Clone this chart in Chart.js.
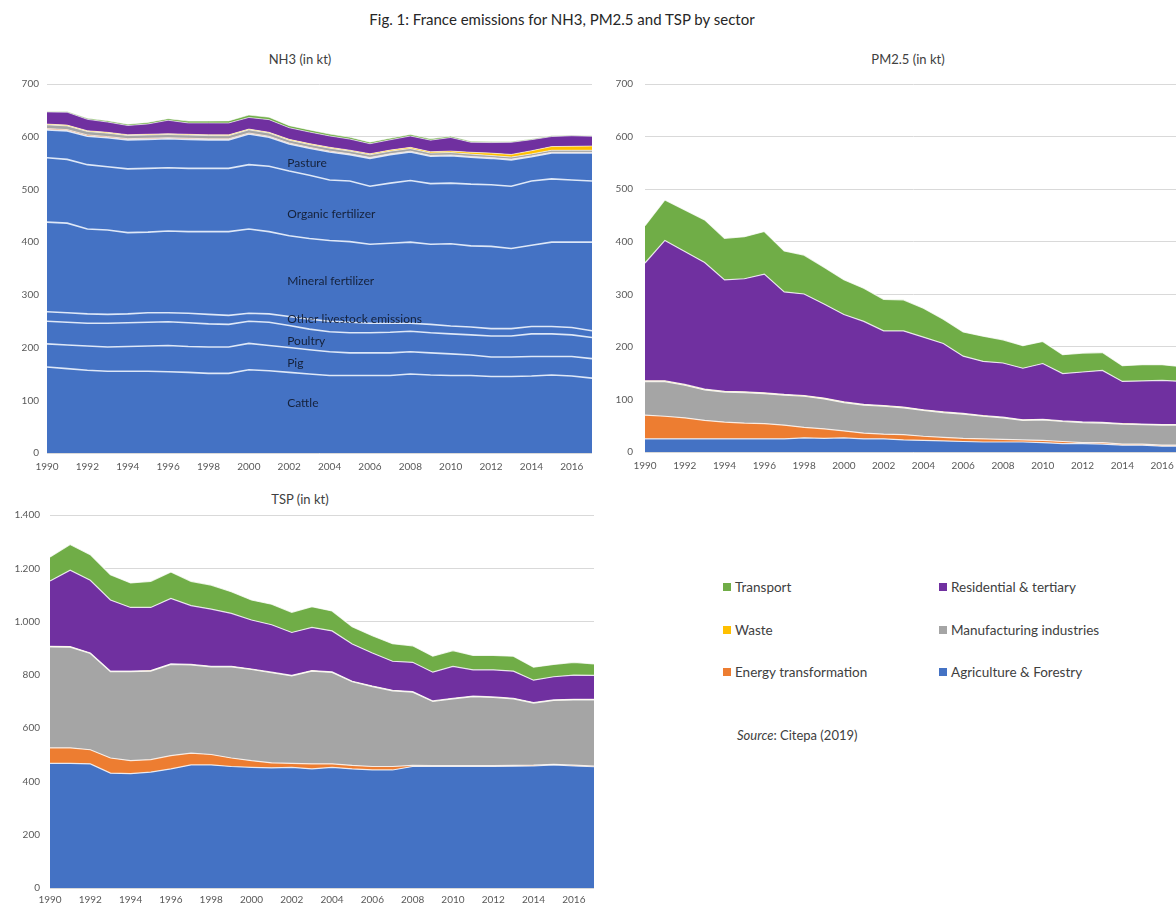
<!DOCTYPE html>
<html>
<head>
<meta charset="utf-8">
<script src="https://cdn.jsdelivr.net/npm/chart.js@4.4.1/dist/chart.umd.min.js"></script>
<style>
  html, body { margin:0; padding:0; width:1176px; height:911px; overflow:hidden; background:#fff; }
  body { position:relative; font-family: Lato, "Open Sans", sans-serif; color:#404040; }
  canvas { position:absolute; }
  .t { position:absolute; white-space:nowrap; transform:translateX(-50%); }
  .main { left:562px; top:10px; font-size:15px; color:#262626; }
  .ct { font-size:13px; color:#404040; }
  .lg { position:absolute; font-size:13.5px; color:#404040; white-space:nowrap; line-height:16px; }
  .lg i { display:inline-block; width:8px; height:8px; margin-right:4px; vertical-align:1px; }
  .src { position:absolute; left:737px; top:727px; font-size:13px; color:#404040; }
</style>
</head>
<body>
<div class="t main">Fig. 1: France emissions for NH3, PM2.5 and TSP by sector</div>
<div class="t ct" style="left:300px; top:51px;">NH3 (in kt)</div>
<div class="t ct" style="left:908px; top:51px;">PM2.5 (in kt)</div>
<div class="t ct" style="left:300px; top:491px;">TSP (in kt)</div>

<canvas id="nh3" width="600" height="490" style="left:0; top:0;"></canvas>
<canvas id="pm" width="600" height="490" style="left:590px; top:0;"></canvas>
<canvas id="tsp" width="600" height="431" style="left:0; top:480px;"></canvas>

<div id="legend"></div>
<div class="src"><em>Source</em>: Citepa (2019)</div>

<script>
// ---------- categories ----------
const years = ['1990','1991','1992','1993','1994','1995','1996','1997','1998','1999','2000','2001','2002','2003','2004','2005','2006','2007','2008','2009','2010','2011','2012','2013','2014','2015','2016','2017'];

// ---------- NH3 (kt) ----------
const nh3Cattle  = [163,160,157,155,155,155,154,153,151,151,158,156,153,150,147,147,147,147,150,148,147,147,145,145,146,148,146,142];
const nh3Pig     = [44,45,46,46,47,48,50,49,50,50,50,48,47,46,45,43,43,43,42,42,41,39,37,37,37,35,37,37];
const nh3Poultry = [43,43,43,45,45,45,45,45,44,43,42,44,42,39,38,38,38,39,39,38,38,38,40,40,43,43,41,40];
const nh3OtherLivestock = [18,18,18,17,17,18,17,18,18,17,15,16,17,19,20,20,18,17,15,16,15,15,14,14,14,14,14,13];
const nh3Mineral = [170,170,161,160,154,153,155,155,157,159,160,156,153,153,153,153,150,152,154,152,156,154,156,152,154,160,162,168];
const nh3Organic = [122,121,122,120,121,121,120,120,120,120,122,124,123,120,115,115,110,114,117,115,115,117,117,118,122,120,118,116];
const nh3Pasture = [53,54,54,55,55,55,55,55,54,54,58,55,51,51,53,50,53,54,54,52,52,51,50,50,46,49,51,53];
const nh3Energy  = [2.5,2.5,2.4,2.3,2.3,2.2,2.2,2.1,2.1,2.0,2.0,1.9,1.9,1.8,1.8,1.7,1.7,1.6,1.6,1.5,1.5,1.5,1.4,1.4,1.4,1.3,1.3,1.3];
const nh3Manuf   = [7,7,6.5,6.5,6,6,6,6,6,6,6,6,5.5,5.5,5.5,5,5,5,5,4.5,4.5,4.5,4,4,4,4,4,4];
const nh3Waste   = [1.5,1.5,1.5,1.5,1.5,1.5,1.5,1.5,1.5,1.5,1.5,1.5,1.6,1.6,1.7,1.8,2,2,2.2,2.5,2.8,3.5,4.5,5,6,7,7.5,8];
const nh3Resid   = [23,24.5,21.5,19.5,17.5,19.5,25.5,21.5,22.5,22.5,22,24,22,22,21.5,21,19,19.5,21.5,22,25.7,19,20,23,21,19,20,18.5];
const nh3Transport = [1,1.5,2,2.5,2.5,3,3,3.5,3.5,4,4.5,4.5,4,4,3.5,3.5,3,3,3,2.5,2.5,2,2,1.5,1.5,1.5,1.2,1];

// ---------- PM2.5 (kt) ----------
const pmAgri      = [25,25,25,25,25,25,25,25,27,26,27,25,25,23,22,21,20,19,19,19,18,16,16,15,13,13,11,11];
const pmEnergy    = [45,43,40,35,32,30,29,26,20,18,13,11,9,10,8,7,6,6,5,4,4,4,2,3,2,2,2,2];
const pmManuf     = [64,66,62,58,57,58,57,57,59,57,54,53,53,51,49,47,46,43,41,37,39,38,38,37,38,37,38,38];
const pmWaste     = [1.5,1.5,1.5,1.5,1.5,1.5,1.5,1.5,1.5,1.5,1.5,1.5,1.4,1.4,1.4,1.4,1.3,1.3,1.3,1.3,1.3,1.2,1.2,1.2,1.2,1.2,1.2,1.2];
const pmResid     = [224,267,253,241,212,215,226,195,193,179,166,158,142,145,138,130,109,103,103,98,106,90,95,99,80,82,84,82];
const pmTransport = [71,77,79,81,79,80,81,78,74,70,66,63,60,59,55,46,46,48,44,43,42,36,36,34,30,31,30,28];

// ---------- TSP (kt) ----------
const tspAgri      = [468,468,466,431,429,435,447,462,462,456,453,451,453,447,453,447,443,443,456,456,456,456,456,457,458,462,458,455];
const tspEnergy    = [58,58,53,57,49,47,50,44,39,32,25,19,15,19,13,13,13,13,4,3,3,3,3,3,3,2,3,3];
const tspManuf     = [379,378,361,324,334,332,342,331,329,342,342,338,328,348,343,314,300,284,275,241,251,259,256,250,233,240,245,248];
const tspWaste     = [2,2,2,2,2,2,2,2,2,2,2,2,2,2,2,2,2,2,2,2,2,2,2,2,2,2,2,2];
const tspResid     = [245,287,273,267,239,237,246,221,215,199,184,178,161,162,154,140,124,109,110,108,120,99,102,102,84,87,91,90];
const tspTransport = [90,96,96,95,92,98,99,91,90,81,75,77,76,78,75,65,65,66,62,60,59,54,54,56,49,46,48,43];

// ---------- text ----------
const sectorNames = ['Agriculture & Forestry','Energy transformation','Manufacturing industries','Waste','Residential & tertiary','Transport'];
const nh3SubNames = ['Cattle','Pig','Poultry','Other livestock emissions','Mineral fertilizer','Organic fertilizer','Pasture'];
const nh3SubLabelValues = [95,170,212,254,326,454,549];
const legendOrder = ['Transport','Residential & tertiary','Waste','Manufacturing industries','Energy transformation','Agriculture & Forestry'];

// ---------- styles ----------
const colors = {
  'Agriculture & Forestry':'#4472C4',
  'Energy transformation':'#ED7D31',
  'Manufacturing industries':'#A5A5A5',
  'Waste':'#FFC000',
  'Residential & tertiary':'#7030A0',
  'Transport':'#70AD47'
};
const tickFont = {family:'Lato', size:10};
const tickColor = '#595959';

function fmt(v){
  if (v >= 1000) { const s = String(v); return s.slice(0, s.length-3) + '.' + s.slice(s.length-3); }
  return String(v);
}

function ds(label, data, color, idx, bw, bc) {
  return {
    label, data,
    backgroundColor: color,
    borderColor: bc || 'rgba(255,255,255,0.8)',
    borderWidth: bw == null ? 1.2 : bw,
    fill: idx === 0 ? 'origin' : '-1',
    pointRadius: 0, tension: 0
  };
}

function opts(c) {
  return {
    responsive:false, animation:false, events:[],
    layout:{padding:c.padding},
    plugins:{legend:{display:false}, tooltip:{enabled:false}, title:{display:false}},
    scales:{
      x:{
        type:'category', offset:false,
        grid:{display:false, drawTicks:false}, border:{display:false},
        ticks:{autoSkip:false, maxRotation:0, minRotation:0, padding:c.xPad, color:tickColor, font:tickFont,
               callback:(v,i)=> i%2===0 ? years[i] : ''},
        afterFit:s=>{ s.height = c.xH; }
      },
      y:{
        stacked:true, min:0, max:c.max,
        grid:{color:'#D9D9D9', lineWidth:1, drawTicks:false}, border:{display:false},
        ticks:{stepSize:c.step, padding:c.yPad, color:tickColor, font:tickFont, callback:fmt},
        afterFit:s=>{ s.width = c.yW; }
      }
    }
  };
}

// NH3 chart
const nh3Sub = [nh3Cattle,nh3Pig,nh3Poultry,nh3OtherLivestock,nh3Mineral,nh3Organic,nh3Pasture];
const nh3Datasets = [];
nh3Sub.forEach((d,i)=> nh3Datasets.push(ds(nh3SubNames[i], d, colors['Agriculture & Forestry'], i, 1.6, 'rgba(235,242,252,0.9)')));
[[nh3Energy,'Energy transformation'],[nh3Manuf,'Manufacturing industries'],[nh3Waste,'Waste'],[nh3Resid,'Residential & tertiary'],[nh3Transport,'Transport']]
  .forEach(([d,n])=> nh3Datasets.push(ds(n, d, colors[n], nh3Datasets.length, 1, 'rgba(255,255,255,0.6)')));

const subLabelPlugin = {
  id:'subLabels',
  afterDatasetsDraw(chart){
    const {ctx, scales:{x,y}} = chart;
    ctx.save();
    ctx.font = '12px Lato';
    ctx.fillStyle = '#15213A';
    ctx.textBaseline = 'middle';
    ctx.textAlign = 'left';
    nh3SubNames.forEach((n,i)=> ctx.fillText(n, x.getPixelForValue(11.9), y.getPixelForValue(nh3SubLabelValues[i])));
    ctx.restore();
  }
};

new Chart(document.getElementById('nh3'), {
  type:'line',
  data:{labels:years, datasets:nh3Datasets},
  options:opts({padding:{top:84,left:0,right:5,bottom:7}, yW:47, xH:30, xPad:8, yPad:8, max:700, step:100}),
  plugins:[subLabelPlugin]
});

function sectorSets(arrs){
  return arrs.map((d,i)=> ds(sectorNames[i], d, colors[sectorNames[i]], i));
}

new Chart(document.getElementById('pm'), {
  type:'line',
  data:{labels:years, datasets:sectorSets([pmAgri,pmEnergy,pmManuf,pmWaste,pmResid,pmTransport])},
  options:opts({padding:{top:84,left:0,right:7,bottom:8}, yW:55, xH:30, xPad:8, yPad:12, max:700, step:100})
});

new Chart(document.getElementById('tsp'), {
  type:'line',
  data:{labels:years, datasets:sectorSets([tspAgri,tspEnergy,tspManuf,tspWaste,tspResid,tspTransport])},
  options:opts({padding:{top:35,left:0,right:5,bottom:3}, yW:50, xH:20, xPad:6, yPad:10, max:1400, step:200})
});

// legend (HTML)
const lgPos = [[723,579],[939,579],[723,622],[939,622],[723,664],[939,664]];
const lg = document.getElementById('legend');
legendOrder.forEach((n,i)=>{
  const d = document.createElement('div');
  d.className = 'lg';
  d.style.left = lgPos[i][0]+'px';
  d.style.top = lgPos[i][1]+'px';
  d.innerHTML = '<i style="background:'+colors[n]+'"></i>'+n.replace('&','&amp;');
  lg.appendChild(d);
});
</script>
</body>
</html>
